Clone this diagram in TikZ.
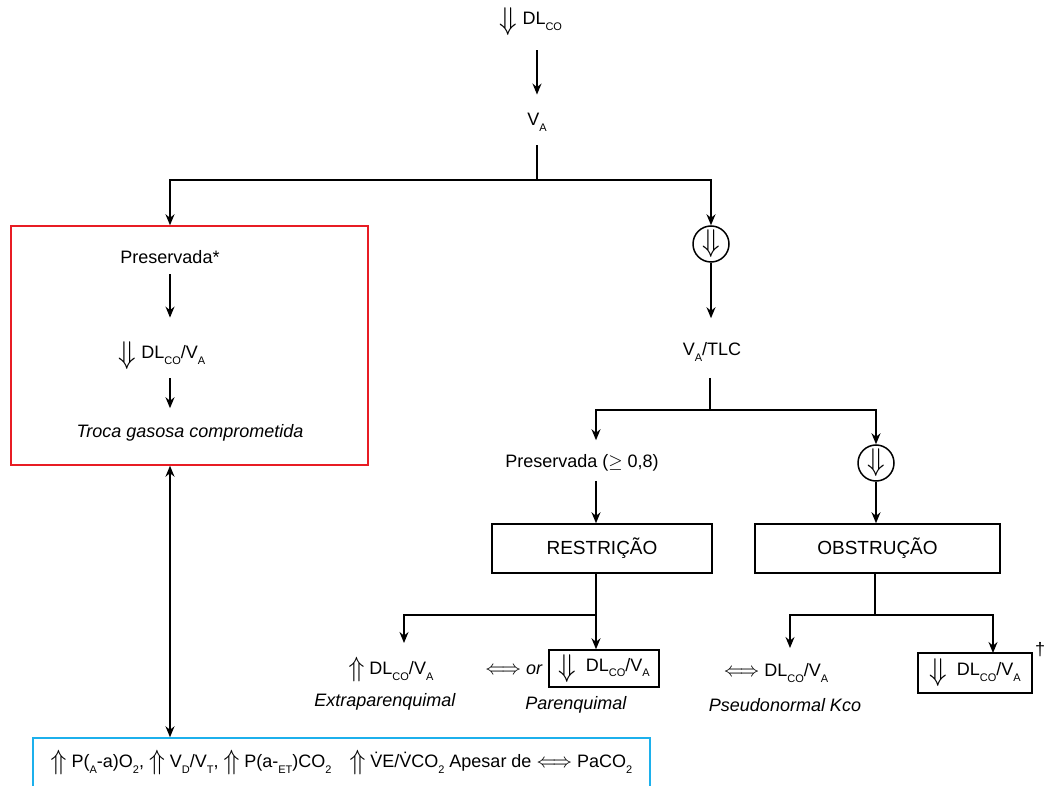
\documentclass[tikz,border=0pt]{standalone}
\usepackage{fontspec}
\setmainfont{Liberation Sans}
\usetikzlibrary{arrows.meta,positioning}

\definecolor{boxred}{RGB}{232,28,36}
\definecolor{boxblue}{RGB}{28,176,236}

\newcommand{\lo}[1]{\raisebox{-0.6ex}{\fontsize{5.5}{6}\selectfont #1}}
\newcommand{\dn}{\raisebox{-0.55ex}{\scalebox{1.55}[1.75]{$\Downarrow$}}}
\newcommand{\upar}{\raisebox{-0.25ex}{\scalebox{1.4}[1.55]{$\Uparrow$}}}
\newcommand{\eqv}{\scalebox{1.05}[1.1]{$\Longleftrightarrow$}}

\begin{document}
\begin{tikzpicture}
[x=0.5pt, y=-0.5pt, font=\fontsize{9}{11}\selectfont,
% STYLES
txt/.style={inner sep=0pt},
flow/.style={-{Stealth[length=5.5pt,width=4.5pt]}, line width=0.75pt},
both/.style={{Stealth[length=5.5pt,width=4.5pt]}-{Stealth[length=5.5pt,width=4.5pt]}, line width=0.75pt},
link/.style={line width=0.75pt},
stage/.style={rectangle, draw, line width=0.75pt, minimum height=24.5pt, font=\fontsize{9.5}{11}\selectfont},
result/.style={rectangle, draw, line width=0.75pt, inner xsep=3pt, inner ysep=0pt},
lowc/.style={circle, draw, line width=0.75pt, minimum size=18pt, inner sep=0pt}]

\useasboundingbox (0,0) rectangle (1045,786);

% top
\node [txt] (dlco) at (531,22) {\dn\ DL\lo{CO}};
\node [txt] (va) at (537,122) {V\lo{A}};

% left branch
\node [rectangle, draw=boxred, line width=0.75pt, minimum width=178.5pt, minimum height=119.5pt] (gasbox) at (189.5,345.5) {};
\node [txt] (pres1) at (170,257) {Preservada*};
\node [txt] (dl1) at (162,356) {\dn\ DL\lo{CO}/V\lo{A}};
\node [txt] (troca) at (190,433) {\textit{Troca gasosa comprometida}};

\node [rectangle, draw=boxblue, line width=0.75pt, minimum width=308.5pt, minimum height=25pt] (signs) at (341.5,763)
{\upar\ P(\lo{A}-a)O\lo{2}, \upar\ V\lo{D}/V\lo{T}, \upar\ P(a-\lo{ET})CO\lo{2}\quad\upar\ \.VE/\.VCO\lo{2} Apesar de \eqv\ PaCO\lo{2}};

% right branch
\node [lowc] (c1) at (711,244) {\dn};
\node [txt] (vatlc) at (712,352) {V\lo{A}/TLC};
\node [txt] (pres2) at (582,463) {Preservada ($\geq$ 0,8)};
\node [lowc] (c2) at (876,463) {\dn};
\node [stage, minimum width=110pt] (restr) at (602,548.5) {RESTRIÇÃO};
\node [stage, minimum width=122.5pt] (obstr) at (877.5,548.5) {OBSTRUÇÃO};

% bottom row
\node [txt] (up1) at (391,670) {\upar\ DL\lo{CO}/V\lo{A}};
\node [txt] (extra) at (385,702) {\textit{Extraparenquimal}};
\node [txt] (eqor) at (514,670) {\eqv\ \textit{or}};
\node [result, minimum width=55pt, minimum height=18.5pt] (rbox) at (604,668.5) {\dn\ \ DL\lo{CO}/V\lo{A}};
\node [txt] (paren) at (576,705) {\textit{Parenquimal}};
\node [txt] (eq2) at (776,673) {\eqv\ DL\lo{CO}/V\lo{A}};
\node [txt] (pseudo) at (785,705) {\textit{Pseudonormal Kco}};
\node [result, minimum width=57pt, minimum height=20pt] (obox) at (975,673) {\dn\ \ DL\lo{CO}/V\lo{A}};
\node [txt] (dag) at (1040,650) {\dag};

% junctions and free ends
\coordinate (vj) at (537,180);
\coordinate (tj) at (710,410);
\coordinate (rj) at (596,615);
\coordinate (oj) at (875,615);
\coordinate (xtip) at (404,643);
\coordinate (ptip) at (790,648);
\coordinate (otip) at (993,653);

%%%%%%%%%%%%%%%%

\draw[flow, shorten <=7pt, shorten >=9pt] (dlco.south -| va) -- (va);
\draw[link, shorten <=7pt] (va) -- (vj);
\draw[flow] (vj) -| (gasbox.north -| pres1);
\draw[flow] (vj) -| (c1);

\draw[flow, shorten <=5pt, shorten >=12pt] (pres1) -- (dl1.north -| pres1);
\draw[flow, shorten <=4pt, shorten >=8pt] (dl1.south -| pres1) -- (troca.north -| pres1);
\draw[both] (gasbox.south -| pres1) -- (signs.north -| pres1);

\draw[flow, shorten >=12pt] (c1) -- (vatlc.north -| c1);
\draw[link, shorten <=8pt] (vatlc.south -| tj) -- (tj);
\draw[flow, shorten >=7pt] (tj) -| (pres2.north -| rj);
\draw[flow] (tj) -| (c2);
\draw[flow, shorten <=4.5pt] (pres2.south -| rj) -- (restr.north -| rj);
\draw[flow] (c2) -- (obstr.north -| c2);

\draw[link] (restr.south -| rj) -- (rj);
\draw[flow] (rj) -- (rbox.north -| rj);
\draw[flow] (rj) -| (xtip);

\draw[link] (obstr.south -| oj) -- (oj);
\draw[flow] (oj) -| (ptip);
\draw[flow] (oj) -| (otip);

\end{tikzpicture}
\end{document}
